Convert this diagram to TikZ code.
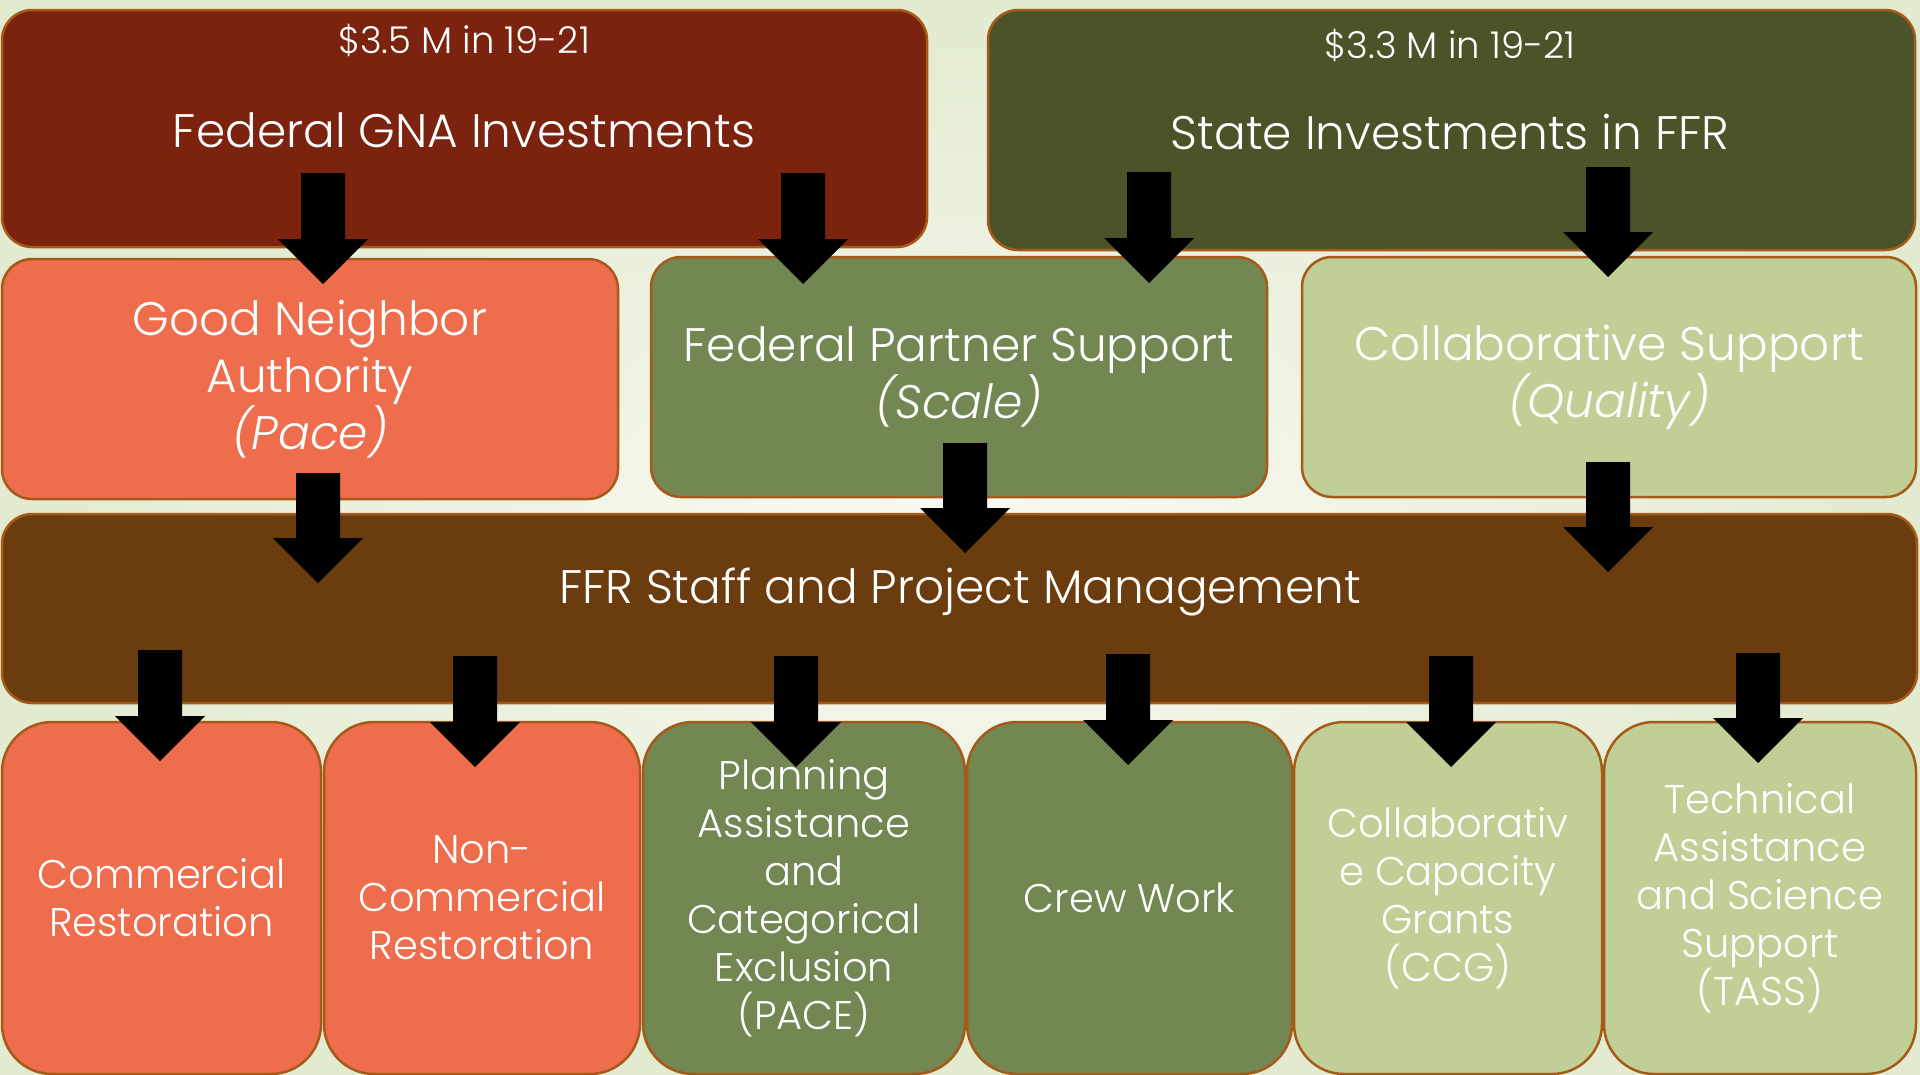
\documentclass[tikz,border=0pt]{standalone}
\usepackage{fontspec}
\setmainfont{Poppins Light}[ItalicFont={Poppins Light Italic}]
\usetikzlibrary{calc}
\definecolor{bgedge}{HTML}{E2EACF}
\definecolor{bgmid}{HTML}{FAFAF4}
\definecolor{rim}{HTML}{A65A18}
\definecolor{fedred}{HTML}{7B230E}
\definecolor{stategreen}{HTML}{4A5428}
\definecolor{coral}{HTML}{EE6D4D}
\definecolor{midgreen}{HTML}{728752}
\definecolor{palegreen}{HTML}{BFCF96}
\definecolor{staffbrown}{HTML}{6B3D0E}
\tikzset{
  box/.style={draw=rim, line width=2.5pt, rounded corners=30pt, inner sep=0pt,
    text=white, align=center, font=\fontsize{47}{57}\selectfont},
  tallbox/.style={box, rounded corners=50pt, font=\fontsize{40}{48}\selectfont},
  lbl/.style={text=white, inner sep=0pt, align=center},
  blockarrow/.style={fill=black, to path={
    ($(\tikztostart)+(-22,0)$) -- ($(\tikztotarget)+(-22,-45)$)
    -- ($(\tikztotarget)+(-45,-45)$) -- (\tikztotarget)
    -- ($(\tikztotarget)+(45,-45)$) -- ($(\tikztotarget)+(22,-45)$)
    -- ($(\tikztostart)+(22,0)$) -- cycle}}
}
\begin{document}
\begin{tikzpicture}[x=1pt, y=-1pt]
\useasboundingbox (0,0) rectangle (1920,1074);
\shade[inner color=bgmid, outer color=bgedge] (0,0) rectangle (1920,1074);
% funding sources
\node[box, fill=fedred, minimum width=925pt, minimum height=237pt] (fedinv) at (464.5,128.5){};
\node[box, fill=stategreen, minimum width=927pt, minimum height=240pt] (stateinv) at (1451.5,130){};
\node[lbl, font=\fontsize{37}{44}\selectfont] (fedamt) at (464,40){\$3.5 M in 19-21};
\node[lbl, font=\fontsize{47}{57}\selectfont] (fedttl) at (464,130){Federal GNA Investments};
\node[lbl, font=\fontsize{37}{44}\selectfont] (stateamt) at (1450,45){\$3.3 M in 19-21};
\node[lbl, font=\fontsize{47}{57}\selectfont] (statettl) at (1450,132){State Investments in FFR};
% programs
\node[box, fill=coral, minimum width=616pt, minimum height=240pt] (gna) at (310,379){Good Neighbor\\Authority\\\textit{(Pace)}};
\node[box, fill=midgreen, minimum width=616pt, minimum height=240pt] (fedpart) at (959,377){Federal Partner Support\\\textit{(Scale)}};
\node[box, fill=palegreen, minimum width=614pt, minimum height=240pt] (collab) at (1609,377){Collaborative Support\\\textit{(Quality)}};
% staff
\node[box, fill=staffbrown, minimum width=1915pt, minimum height=189pt] (staff) at (959.5,608.5){};
\node[lbl, font=\fontsize{47}{57}\selectfont] (staffttl) at (960,592){FFR Staff and Project Management};
% work areas
\node[tallbox, fill=coral, minimum width=319pt, minimum height=352pt] (comm) at (161.5,898){Commercial\\Restoration};
\node[tallbox, fill=coral, minimum width=316pt, minimum height=352pt] (noncomm) at (482,898){Non-\\Commercial\\Restoration};
\node[tallbox, fill=midgreen, minimum width=322pt, minimum height=352pt] (plan) at (804,898){Planning\\Assistance\\and\\Categorical\\Exclusion\\(PACE)};
\node[tallbox, fill=midgreen, minimum width=325pt, minimum height=352pt] (crew) at (1129.5,898){Crew Work};
\node[tallbox, fill=palegreen, minimum width=308pt, minimum height=352pt] (ccg) at (1448,898){Collaborativ\\e Capacity\\Grants\\(CCG)};
\node[tallbox, fill=palegreen, minimum width=312pt, minimum height=352pt] (tass) at (1760,898){Technical\\Assistance\\and Science\\Support\\(TASS)};
% arrows
\coordinate (a1t) at (323,173); \coordinate (a1h) at (323,284);
\coordinate (a2t) at (803,173); \coordinate (a2h) at (803,284);
\coordinate (a3t) at (1149,172); \coordinate (a3h) at (1149,283);
\coordinate (a4t) at (1608,167); \coordinate (a4h) at (1608,277);
\coordinate (a5t) at (318,473); \coordinate (a5h) at (318,583);
\coordinate (a6t) at (965,443); \coordinate (a6h) at (965,553);
\coordinate (a7t) at (1608,462); \coordinate (a7h) at (1608,572);
\coordinate (b1t) at (160,650); \coordinate (b1h) at (160,761);
\coordinate (b2t) at (475,656); \coordinate (b2h) at (475,767);
\coordinate (b3t) at (796,656); \coordinate (b3h) at (796,767);
\coordinate (b4t) at (1128,654); \coordinate (b4h) at (1128,765);
\coordinate (b5t) at (1451,656); \coordinate (b5h) at (1451,767);
\coordinate (b6t) at (1758,653); \coordinate (b6h) at (1758,763);
\foreach \a in {a1,a2,a3,a4,a5,a6,a7,b1,b2,b3,b4,b5,b6}
  \path[blockarrow] (\a t) to (\a h);
\end{tikzpicture}
\end{document}
